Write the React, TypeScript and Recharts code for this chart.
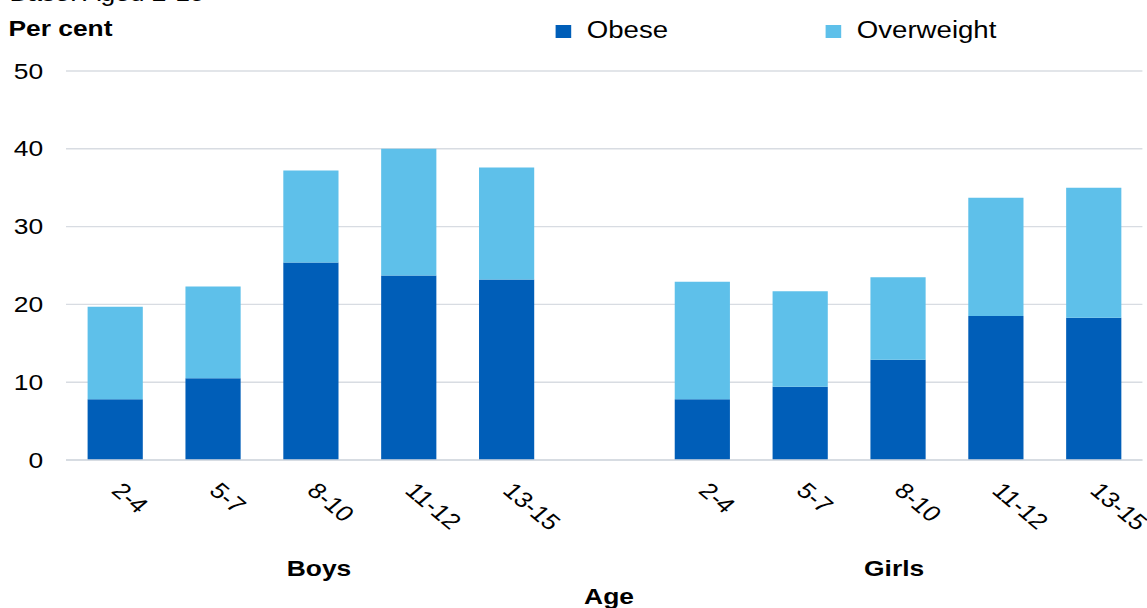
import React from 'react';
import {
  BarChart,
  Bar,
  XAxis,
  YAxis,
  CartesianGrid,
  Legend,
} from 'recharts';

// Prevalence of obesity and overweight by age band, boys and girls aged 2-15
const AGE_BANDS = ['2-4', '5-7', '8-10', '11-12', '13-15', '', '2-4', '5-7', '8-10', '11-12', '13-15'];
const OBESE = [7.8, 10.5, 25.4, 23.7, 23.2, null, 7.8, 9.4, 12.9, 18.5, 18.3];
const OVERWEIGHT = [11.9, 11.8, 11.8, 16.3, 14.4, null, 15.1, 12.3, 10.6, 15.2, 16.7];
const Y_TICKS = [0, 10, 20, 30, 40, 50];

// group captions sit under the middle band of each group
const GROUP_LABELS: Record<number, { text: string; dx: number }> = {
  2: { text: 'Boys', dx: 7 },
  8: { text: 'Girls', dx: -3 },
};

const SERIES = [
  { key: 'obese', name: 'Obese', color: '#005EB8' },
  { key: 'overweight', name: 'Overweight', color: '#5EC0EA' },
];

const data = AGE_BANDS.map((age, i) => ({
  age,
  obese: OBESE[i],
  overweight: OVERWEIGHT[i],
}));

const FONT = '"Liberation Sans", Arial, sans-serif';
const W = 956;
const H = 608;
const STRETCH = 1.2;

const AgeTick = (props: any) => {
  const { x, y, payload } = props;
  const idx = props.index ?? payload.index;
  const group = GROUP_LABELS[idx];
  return (
    <g>
      {payload.value !== '' && (
        <text
          x={0}
          y={0}
          transform={`translate(${x - 4},${y + 24}) rotate(45)`}
          textAnchor="start"
          fontSize={22}
          fill="#000"
          fontFamily={FONT}
        >
          {payload.value}
        </text>
      )}
      {group && (
        <text
          x={x + group.dx}
          y={y + 108}
          textAnchor="middle"
          fontSize={22}
          fontWeight="bold"
          fill="#000"
          fontFamily={FONT}
        >
          {group.text}
        </text>
      )}
    </g>
  );
};

const PercentTick = (props: any) => {
  const { y, payload } = props;
  return (
    <text x={36} y={y} dy="0.35em" textAnchor="end" fontSize={22} fill="#000" fontFamily={FONT}>
      {payload.value}
    </text>
  );
};

const renderTitles = () => (
  <g fontFamily={FONT} fill="#000">
    <text x={8} y={1} fontSize={22}>Base: Aged 2-15</text>
    <text x={7} y={36} fontSize={22} fontWeight="bold">Per cent</text>
  </g>
);

const renderAgeTitle = (props: any) => {
  const { viewBox } = props;
  return (
    <text
      x={viewBox.x + viewBox.width / 2 + 4}
      y={viewBox.y + viewBox.height - 4}
      textAnchor="middle"
      fontSize={22}
      fontWeight="bold"
      fill="#000"
      fontFamily={FONT}
    >
      Age
    </text>
  );
};

const LEGEND_X = [463, 688];

const renderLegend = () => (
  <div style={{ position: 'relative', width: W, height: 50, fontFamily: FONT }}>
    {SERIES.map((s, i) => (
      <React.Fragment key={s.key}>
        <div
          style={{
            position: 'absolute',
            left: LEGEND_X[i],
            top: 25,
            width: 13,
            height: 13,
            background: s.color,
          }}
        />
        <span
          style={{
            position: 'absolute',
            left: LEGEND_X[i] + 26,
            top: 18.5,
            fontSize: 23,
            lineHeight: '23px',
            color: '#000',
            whiteSpace: 'nowrap',
          }}
        >
          {s.name}
        </span>
      </React.Fragment>
    ))}
  </div>
);

export default function App() {
  return (
    <div
      style={{
        position: 'absolute',
        left: 0,
        top: 0,
        width: W,
        height: H,
        background: '#fff',
        transform: `scaleX(${STRETCH})`,
        transformOrigin: '0 0',
      }}
    >
      <BarChart width={W} height={H} data={data} margin={{ top: 71, right: 4, left: 0, bottom: 0 }}>
        <CartesianGrid vertical={false} stroke="#D8DCE2" strokeWidth={1.4} />
        <XAxis
          dataKey="age"
          height={148}
          axisLine={{ stroke: '#D3D8DF', strokeWidth: 1.5 }}
          tickLine={false}
          interval={0}
          tick={<AgeTick />}
          label={renderAgeTitle}
        />
        <YAxis
          width={55}
          domain={[0, 50]}
          ticks={Y_TICKS}
          axisLine={false}
          tickLine={false}
          tick={<PercentTick />}
          label={renderTitles}
        />
        <Legend
          layout="horizontal"
          verticalAlign="middle"
          align="center"
          content={renderLegend}
          wrapperStyle={{ top: 0, left: 0, width: W }}
        />
        {SERIES.map((s) => (
          <Bar
            key={s.key}
            dataKey={s.key}
            name={s.name}
            stackId="total"
            fill={s.color}
            barSize={46}
            isAnimationActive={false}
          />
        ))}
      </BarChart>
    </div>
  );
}
